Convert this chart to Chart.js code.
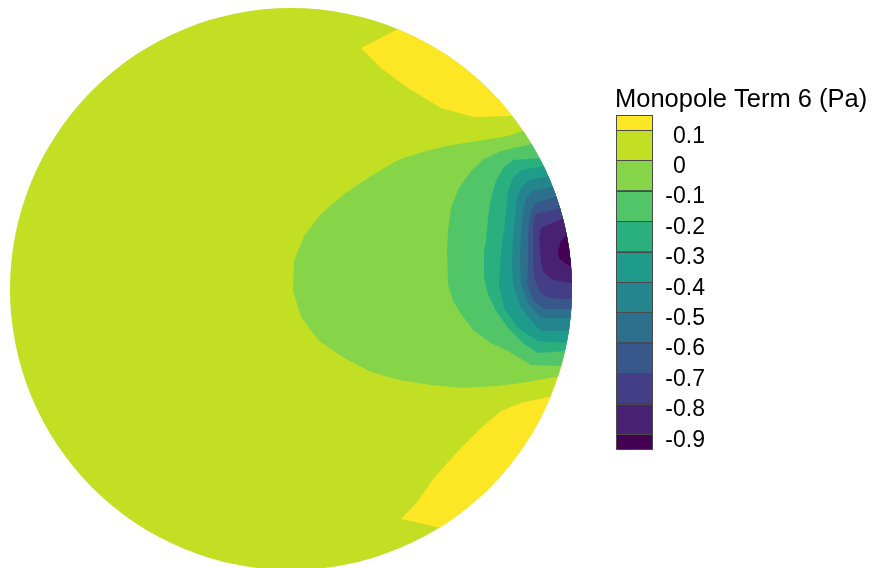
<!DOCTYPE html>
<html>
<head>
<meta charset="utf-8">
<script src="https://cdn.jsdelivr.net/npm/chart.js@4.4.1/dist/chart.umd.min.js"></script>
<style>
  html, body { margin: 0; padding: 0; background: #ffffff; }
  #wrap { width: 875px; height: 568px; }
</style>
</head>
<body>
<div id="wrap"><canvas id="plot" width="875" height="568"></canvas></div>
<script>
// Colour-bar title, contour levels (Pa) and band colours, top of bar first
const barTitle = 'Monopole Term 6 (Pa)';
const levelLabels = ['0.1', '0', '-0.1', '-0.2', '-0.3', '-0.4', '-0.5', '-0.6', '-0.7', '-0.8', '-0.9'];
const bandColors = ['#fde725', '#c2df23', '#86d549', '#52c569', '#2ab07f', '#1e9b8a',
                    '#25858e', '#2d708e', '#38588c', '#433e85', '#482173', '#440154'];

// Disk radius in plot units (disk centred on the origin)
const diskRadius = 281;

// Band 0 .. 0.1 covers the whole disk
const bandBase = [[-300, -300], [300, -300], [300, 300], [-300, 300]];
// Lobes above 0.1
const lobeUpper = [[70, 241], [105, 259], [140, 268], [250, 228], [235, 178], [220, 173],
                   [183, 172], [150, 181], [117, 201], [90, 221]];
const lobeLower = [[262, -107], [310, -112], [190, -272], [150, -239], [110, -230], [127, -212],
                   [143, -189], [167, -162], [190, -139], [210, -122], [230, -114]];
// Regions below each negative level, outermost first
const below0 = [[270, 178], [235, 159], [217, 153], [180, 147], [155, 143], [135, 138], [107, 129],
                [80, 113], [53, 95], [30, 75], [13, 53], [3, 28], [2, -2], [10, -28], [28, -52],
                [53, -69], [80, -83], [108, -91], [140, -96], [172, -99], [207, -97], [230, -94],
                [270, -87], [330, -92], [330, 178]];
const belowM01 = [[270, 158], [245, 146], [210, 138], [193, 130], [180, 118], [168, 101], [160, 81],
                  [157, 58], [156, 38], [157, 5], [162, -12], [170, -25], [183, -42], [200, -54],
                  [217, -62], [240, -76], [270, -77], [330, -77], [330, 158]];
const belowM02 = [[290, 138], [250, 131], [222, 129], [212, 121], [205, 108], [200, 91], [197, 71],
                  [195, 48], [193, 38], [193, 11], [197, -5], [205, -22], [217, -39], [233, -55],
                  [247, -64], [275, -62], [330, -62], [330, 138]];
const belowM03 = [[290, 123], [255, 123], [230, 119], [222, 111], [217, 98], [215, 78], [213, 58],
                  [210, 38], [208, 5], [213, -19], [227, -39], [247, -52], [278, -54], [330, -54],
                  [330, 123]];
const belowM04 = [[290, 116], [260, 113], [238, 109], [230, 101], [225, 88], [224, 71], [222, 48],
                  [221, 28], [222, 5], [230, -19], [243, -35], [250, -42], [278, -42], [330, -42],
                  [330, 116]];
const belowM05 = [[290, 106], [263, 103], [242, 98], [235, 91], [232, 78], [230, 58], [229, 28],
                  [230, 5], [237, -15], [250, -29], [278, -29], [330, -29], [330, 106]];
const belowM06 = [[290, 96], [267, 93], [245, 86], [240, 78], [237, 61], [237, 28], [236, 5],
                  [242, -12], [253, -20], [278, -20], [330, -20], [330, 96]];
const belowM07 = [[290, 85], [270, 81], [245, 75], [242, 65], [242, 28], [243, 11], [248, -2],
                  [257, -9], [278, -10], [330, -10], [330, 85]];
const belowM08 = [[290, 74], [273, 71], [250, 61], [248, 51], [250, 28], [252, 18], [260, 10],
                  [278, 6], [330, 6], [330, 74]];
const belowM09 = [[290, 60], [277, 56], [270, 48], [267, 38], [268, 31], [275, 25], [285, 20],
                  [330, 20], [330, 60]];

// Draw order: base band, high lobes, then nested low regions
const regions = [
  { pts: bandBase,  band: 1 },
  { pts: lobeUpper, band: 0 },
  { pts: lobeLower, band: 0 },
  { pts: below0,    band: 2 },
  { pts: belowM01,  band: 3 },
  { pts: belowM02,  band: 4 },
  { pts: belowM03,  band: 5 },
  { pts: belowM04,  band: 6 },
  { pts: belowM05,  band: 7 },
  { pts: belowM06,  band: 8 },
  { pts: belowM07,  band: 9 },
  { pts: belowM08,  band: 10 },
  { pts: belowM09,  band: 11 }
];

const FONT = "'Liberation Sans', Arial, Helvetica, sans-serif";

// Fills every region polygon from its scaled points, clipped to the disk
const contourFill = {
  id: 'contourFill',
  beforeDatasetsDraw(chart) {
    const { ctx, scales: { x, y } } = chart;
    const cx = x.getPixelForValue(0);
    const cy = y.getPixelForValue(0);
    const r = x.getPixelForValue(diskRadius) - cx;
    ctx.save();
    ctx.beginPath();
    ctx.arc(cx, cy, r, 0, Math.PI * 2);
    ctx.clip();
    chart.data.datasets.forEach((ds, i) => {
      const pts = chart.getDatasetMeta(i).data;
      if (!pts.length) return;
      ctx.beginPath();
      ctx.moveTo(pts[0].x, pts[0].y);
      for (let k = 1; k < pts.length; k++) ctx.lineTo(pts[k].x, pts[k].y);
      ctx.closePath();
      ctx.fillStyle = ds.backgroundColor;
      ctx.fill();
    });
    ctx.restore();
    return false;
  }
};

// Colour bar with level labels
const colourBar = {
  id: 'colourBar',
  afterDraw(chart) {
    const ctx = chart.ctx;
    const left = 616, width = 37, top = 115, endH = 15, step = 30.4;
    ctx.save();
    ctx.fillStyle = '#000';
    ctx.font = '25.5px ' + FONT;
    ctx.textBaseline = 'alphabetic';
    ctx.textAlign = 'left';
    ctx.fillText(barTitle, 615, 107);

    let yPos = top;
    bandColors.forEach((c, i) => {
      const h = (i === 0 || i === bandColors.length - 1) ? endH : step;
      ctx.fillStyle = c;
      ctx.fillRect(left, yPos, width, h);
      ctx.strokeStyle = '#4a4a4a';
      ctx.lineWidth = 1;
      ctx.strokeRect(left + 0.5, Math.round(yPos) + 0.5, width - 1, Math.round(h));
      yPos += h;
    });

    ctx.font = '23px ' + FONT;
    ctx.fillStyle = '#000';
    const minusW = ctx.measureText('-').width;
    levelLabels.forEach((lab, i) => {
      const yLine = top + endH + i * step;
      const x0 = lab.startsWith('-') ? 673 - minusW : 673;
      ctx.fillText(lab, x0, yLine + 12.5);
    });
    ctx.restore();
  }
};

const datasets = regions.map(rg => ({
  data: rg.pts.map(([px, py]) => ({ x: px, y: py })),
  backgroundColor: bandColors[rg.band],
  pointRadius: 0,
  showLine: false
}));

new Chart(document.getElementById('plot'), {
  type: 'scatter',
  data: { datasets },
  options: {
    responsive: false,
    animation: false,
    devicePixelRatio: 1,
    layout: { padding: 0 },
    plugins: { legend: { display: false }, tooltip: { enabled: false } },
    events: [],
    scales: {
      x: { type: 'linear', min: -291, max: 584, display: false },
      y: { type: 'linear', min: -279, max: 289, display: false }
    }
  },
  plugins: [contourFill, colourBar]
});
</script>
</body>
</html>
